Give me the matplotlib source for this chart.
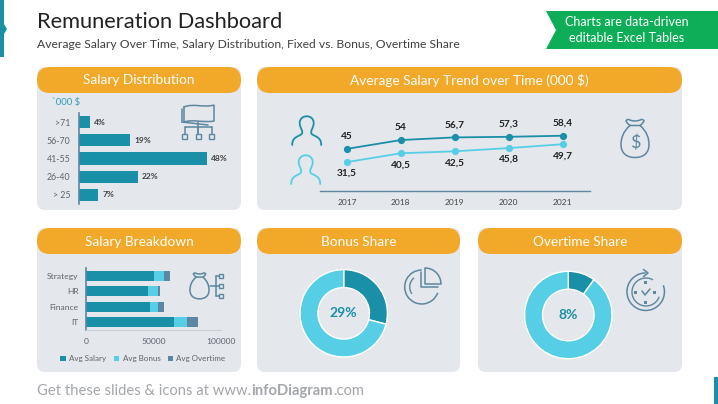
import numpy as np
import matplotlib
matplotlib.use("Agg")
import matplotlib.pyplot as plt
from matplotlib.patches import FancyBboxPatch, Polygon, Arc, Rectangle, PathPatch
from matplotlib.path import Path

# ---- data ----
dist_labels = [">71", "56-70", "41-55", "26-40", "> 25"]
dist_values = [4, 19, 48, 22, 7]

years = ["2017", "2018", "2019", "2020", "2021"]
trend_high = [45, 54, 56.7, 57.3, 58.4]
trend_low = [31.5, 40.5, 42.5, 45.8, 49.7]

depts = ["Strategy", "HR", "Finance", "IT"]
avg_salary = [50000, 46000, 47000, 65000]
avg_bonus = [8000, 7000, 6000, 10000]
avg_overtime = [4000, 2000, 5000, 8000]

bonus_share = [29, 71]
overtime_share = [10, 90]
bonus_label = "29%"
overtime_label = "8%"

# ---- style ----
plt.rcParams["font.family"] = ["Lato", "DejaVu Sans"]
W, H = 718, 404
DARK, LIGHT, STEEL = "#1A8FA8", "#56CFE6", "#5B87A3"
PANEL, ORANGE, GREEN = "#E4E7EC", "#F2A92A", "#0DAE57"
ICON = "#5C87A0"
TXT = "#5F656D"

fig = plt.figure(figsize=(W / 100, H / 100), dpi=100, facecolor="white")

def axpx(x0, y0, x1, y1, **kw):
    ax = fig.add_axes([x0 / W, 1 - y1 / H, (x1 - x0) / W, (y1 - y0) / H], **kw)
    ax.patch.set_alpha(0)
    return ax

bg = fig.add_axes([0, 0, 1, 1])
bg.set_xlim(0, W)
bg.set_ylim(H, 0)
bg.axis("off")

def panel(x0, y0, x1, y1, title):
    r = 8
    bg.add_patch(FancyBboxPatch((x0 + r, y0 + r), x1 - x0 - 2 * r, y1 - y0 - 2 * r,
                                boxstyle=f"round,pad={r},rounding_size={r}", fc=PANEL, ec="none"))
    rr = 13
    bg.add_patch(FancyBboxPatch((x0 + rr, y0 + rr), x1 - x0 - 2 * rr, 0.01,
                                boxstyle=f"round,pad={rr},rounding_size={rr}", fc=ORANGE, ec="none"))
    bg.text((x0 + x1) / 2, y0 + 13.5, title, color="white", fontsize=9.85, ha="center", va="center")

panel(37, 67, 241, 210, "Salary Distribution")
panel(257, 67, 682, 210, "Average Salary Trend over Time (000 $)")
panel(37, 228, 241, 372, "Salary Breakdown")
panel(257, 228, 460, 372, "Bonus Share")
panel(478, 228, 682, 372, "Overtime Share")

# header
bg.text(37, 22, "Remuneration Dashboard", fontsize=15.75, color="#222222", ha="left", va="center")
bg.text(37, 44, "Average Salary Over Time, Salary Distribution, Fixed vs. Bonus, Overtime Share",
        fontsize=8.75, color="#404040", ha="left", va="center")
bg.add_patch(Polygon([(546, 11), (718, 11), (718, 49), (546, 49), (556, 30)], fc=GREEN, ec="none"))
bg.text(627, 22, "Charts are data-driven", color="white", fontsize=9, ha="center", va="center")
bg.text(627, 38, "editable Excel Tables", color="white", fontsize=9, ha="center", va="center")
bg.add_patch(Polygon([(0, 0), (4, 0), (4, 24), (7, 29), (4, 34), (4, 57), (0, 57)], fc=DARK, ec="none"))
bg.add_patch(Rectangle((714, 377), 4, 27, fc=DARK, ec="none"))
ft = bg.text(37, 391, "Get these slides & icons at www.", fontsize=10.6, color="#A3A6AA", ha="left", va="center")
fig.canvas.draw()
bb = ft.get_window_extent()
ft2 = bg.text(bb.x1, 391, "infoDiagram", fontsize=10.6, color="#A3A6AA", ha="left", va="center", fontweight="bold")
bb = ft2.get_window_extent()
bg.text(bb.x1, 391, ".com", fontsize=10.6, color="#A3A6AA", ha="left", va="center")

# ---- salary distribution ----
ax = axpx(79, 113, 220, 204)
pos = np.arange(len(dist_values))
ax.barh(pos, dist_values, height=0.66, color=DARK)
ax.set_xlim(0, 141 / (128 / 48))
ax.set_ylim(len(dist_values) - 0.5, -0.5)
ax.set_yticks(pos, dist_labels, fontsize=6.3, color=TXT)
ax.tick_params(axis="y", length=0, pad=6)
ax.set_xticks([])
for s in ["top", "right", "bottom"]:
    ax.spines[s].set_visible(False)
ax.spines["left"].set_color(STEEL)
ax.spines["left"].set_linewidth(1.2)
for i, v in enumerate(dist_values):
    ax.annotate(f"{v}%", (v, i), xytext=(3.2, 0), textcoords="offset points", va="center",
                fontsize=6.0, fontweight="bold", color="#444444")
bg.text(52, 103, "`000 $", fontsize=6.8, color="#2E9DB5", ha="left", va="center")

# ---- trend ----
ax = axpx(320, 120, 589.5, 191)
x = np.arange(len(years))
ax.plot(x, trend_high, "-o", color=DARK, lw=1.3, ms=5.2, mew=0)
ax.plot(x, trend_low, "-o", color=LIGHT, lw=1.3, ms=5.2, mew=0)
ax.set_xlim(-0.5, 4.5)
ax.set_ylim(2, 2 + 71 / 0.98)
ax.set_xticks(x, years, fontsize=6.0, color="#444444")
ax.set_yticks([])
ax.tick_params(axis="x", length=0, pad=5.5)
for s in ["top", "right", "left"]:
    ax.spines[s].set_visible(False)
ax.spines["bottom"].set_color(STEEL)
ax.spines["bottom"].set_linewidth(1)
for i, (a, b) in enumerate(zip(trend_high, trend_low)):
    ax.annotate(f"{a:g}".replace(".", ","), (i, a), xytext=(0, 9), textcoords="offset points",
                ha="center", va="center", fontsize=7.3, fontweight="bold", color="#222222")
    ax.annotate(f"{b:g}".replace(".", ","), (i, b), xytext=(0, -8.2), textcoords="offset points",
                ha="center", va="center", fontsize=7.3, fontweight="bold", color="#222222")

# ---- breakdown ----
ax = axpx(86.3, 268, 221, 330)
pos = np.arange(len(depts))
sal, bon, ot = map(np.array, (avg_salary, avg_bonus, avg_overtime))
ax.barh(pos, sal, height=0.64, color=DARK, label="Avg Salary")
ax.barh(pos, bon, left=sal, height=0.64, color=LIGHT, label="Avg Bonus")
ax.barh(pos, ot, left=sal + bon, height=0.64, color=STEEL, label="Avg Overtime")
ax.set_xlim(0, 100000)
ax.set_ylim(len(depts) - 0.5, -0.5)
ax.set_yticks(pos, depts, fontsize=6.1, color=TXT)
ax.set_xticks([0, 50000, 100000], ["0", "50000", "100000"], fontsize=6.1, color=TXT)
ax.tick_params(axis="both", length=0)
ax.tick_params(axis="y", pad=5.5)
ax.tick_params(axis="x", pad=6)
for s in ["top", "right"]:
    ax.spines[s].set_visible(False)
ax.spines["left"].set_color(STEEL)
ax.spines["left"].set_linewidth(1.2)
ax.spines["bottom"].set_color("#CBCFD6")
ax.spines["bottom"].set_linewidth(0.8)
ax.legend(loc="center", bbox_to_anchor=(0.421, -0.465), ncol=3, frameon=False,
          fontsize=5.8, handlelength=0.7, handleheight=0.7, handletextpad=0.4, columnspacing=0.9,
          labelcolor=TXT, borderpad=0)

# ---- donuts ----
def donut(cx, cy, r, values, label):
    ax = axpx(cx - r - 1, cy - r - 1, cx + r + 1, cy + r + 1)
    ax.pie(values, colors=[DARK, LIGHT], startangle=90, counterclock=False, radius=1,
           wedgeprops=dict(width=0.41, edgecolor="white", linewidth=1))
    ax.set_xlim(-(r + 1) / r, (r + 1) / r)
    ax.set_ylim(-(r + 1) / r, (r + 1) / r)
    ax.text(0, 0, label, ha="center", va="center", fontsize=10, fontweight="bold", color=DARK)

donut(343.7, 313.3, 43.7, bonus_share, bonus_label)
donut(568.3, 315, 43.7, overtime_share, overtime_label)

# ---- icons (decoration, drawn on the background layer) ----
def curve(pts, color=ICON, lw=1.1):
    codes = [Path.MOVETO] + [Path.CURVE4] * (len(pts) - 1)
    bg.add_patch(PathPatch(Path(pts, codes), fc="none", ec=color, lw=lw, capstyle="round"))

def line(xs, ys, color=ICON, lw=1.1):
    bg.plot(xs, ys, color=color, lw=lw, solid_capstyle="round")

def person(cx, top, color):
    p = [(-14.5, 29), (-14.5, 21), (-9, 21), (-5, 18), (-3, 15), (-7, 12), (-7, 7),
         (-7, -2), (7, -2), (7, 7), (7, 12), (3, 15), (5, 18), (9, 21), (14.5, 21), (14.5, 29)]
    curve([(cx + a, top + b) for a, b in p], color=color, lw=1.3)

person(306.7, 116, DARK)
person(305.7, 155, LIGHT)

def bag(cx, top, s):
    body = [(-5, 6), (-12, 12), (-14, 19), (-14, 25), (-14, 34), (-8, 38), (0, 38),
            (8, 38), (14, 34), (14, 25), (14, 19), (12, 12), (5, 6)]
    curve([(cx + a * s, top + b * s) for a, b in body])
    tie = [(-5, 6), (-10, 2), (-10, 0), (-6, 0), (-3, 2), (3, 2), (6, 0), (10, 0), (10, 2), (5, 6), (5, 6), (-5, 6), (-5, 6)]
    curve([(cx + a * s, top + b * s) for a, b in tie])

bag(635, 119.5, 1.0)
bg.text(635, 143, "$", fontsize=13, color=ICON, ha="center", va="center")
bag(199.5, 273, 0.68)
line([210, 216], [286, 286])
line([216, 216], [276, 296])
for yy in (276, 286, 296):
    line([216, 219], [yy, yy])
    bg.add_patch(Rectangle((219, yy - 2), 4, 4, fc="none", ec=ICON, lw=1.0))

# org / flag icon
curve([(184, 107), (193, 103), (204, 108), (214, 105), (214, 105), (214, 121), (214, 121),
       (204, 123), (193, 119), (184, 122), (184, 122), (184, 107), (184, 107)])
line([182, 182], [109, 122])
line([182, 208], [122, 125])
line([198, 198], [122, 133])
line([184.6, 211.6], [127, 127])
for xx in (184.6, 198, 211.6):
    line([xx, xx], [127, 134])
    bg.add_patch(Rectangle((xx - 2.5, 134), 5, 5, fc="none", ec=ICON, lw=1.0))

# pie icon (the y axis of this layer points down, so Arc angles run clockwise on screen)
bg.add_patch(Arc((421.7, 287), 34, 34, theta1=20, theta2=270, ec=ICON, lw=1.1))
bg.add_patch(Arc((421.7, 287), 24, 24, theta1=145, theta2=230, ec=ICON, lw=1.0))
line([421.2, 421.2, 438], [272, 287, 287])
bg.add_patch(Arc((425, 284), 32, 32, theta1=270, theta2=360, ec=ICON, lw=1.1))
line([425, 425, 441], [268, 284, 284])

# clock icon
bg.add_patch(Arc((645.7, 291.7), 37.5, 37.5, theta1=-20, theta2=270, ec=ICON, lw=1.1))
bg.add_patch(Arc((646, 292), 28, 28, theta1=20, theta2=300, ec=ICON, lw=1.0))
line([643.5, 648, 643.5], [269.5, 273, 276.5])
line([642, 645, 650], [291, 295, 289])
for dx, dy in ((0, -10), (-10, 0), (9, 0), (0, 10)):
    bg.add_patch(Rectangle((645.7 + dx - 1.5, 292 + dy - 1.5), 3, 3, fc=ICON, ec="none"))

fig.savefig("out.png", dpi=100, facecolor="white")
